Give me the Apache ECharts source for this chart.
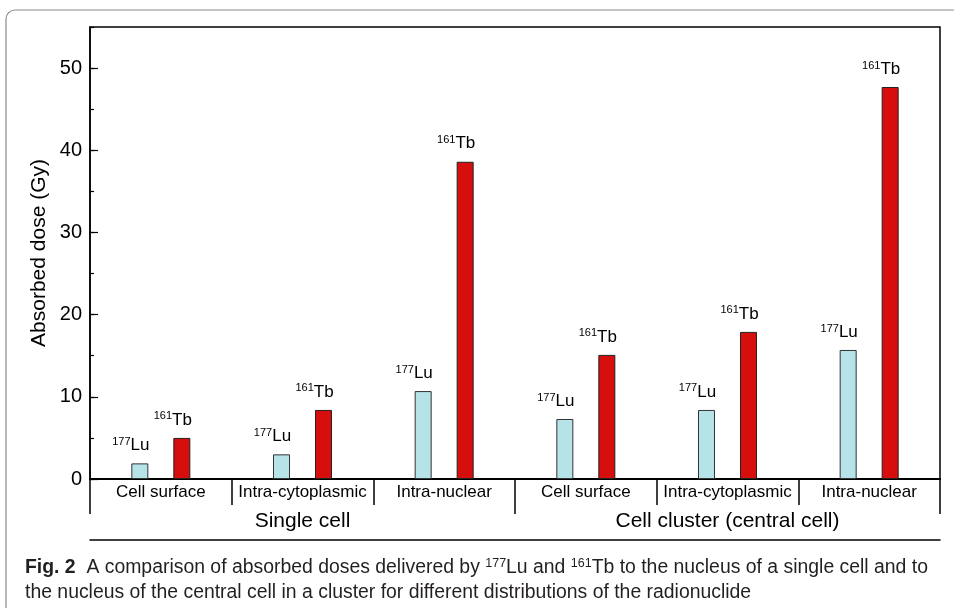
<!DOCTYPE html>
<html>
<head>
<meta charset="utf-8">
<script src="https://cdn.jsdelivr.net/npm/echarts@6/dist/echarts.min.js"></script>
<style>html,body{margin:0;padding:0;background:#fff}#c{width:954px;height:608px}</style>
</head>
<body>
<div id="c"></div>
<script>
var categories = ['Cell surface', 'Intra-cytoplasmic', 'Intra-nuclear', 'Cell surface', 'Intra-cytoplasmic', 'Intra-nuclear'];
var groups = ['Single cell', 'Cell cluster (central cell)'];
var lu177 = [1.9, 3.0, 10.7, 7.3, 8.4, 15.7];
var tb161 = [5.0, 8.4, 38.6, 15.1, 17.9, 47.7];
var yTicks = [0, 10, 20, 30, 40, 50];

var chart = echarts.init(document.getElementById('c'));
var FF = 'Liberation Sans, Arial, sans-serif';
var CF = 'Liberation Sans Narrow, Arial Narrow, sans-serif';
function supLabel(sup, main) {
  return {
    show: true, position: 'top', distance: 9, offset: [-9, 0],
    formatter: '{s|' + sup + '}{n|' + main + '}',
    rich: {
      s: { fontSize: 11, fontFamily: FF, color: '#000', padding: [0, 0, 7, 0] },
      n: { fontSize: 17, fontFamily: FF, color: '#000' }
    }
  };
}
chart.setOption({
  animation: false,
  backgroundColor: '#fff',
  title: {
    left: 25, top: 555, padding: 0,
    text: '{b|Fig. 2}{t|  A comparison of absorbed doses delivered by }{s|177}{t|Lu and }{s|161}{t|Tb to the nucleus of a single cell and to}\n{t|the nucleus of the central cell in a cluster for different distributions of the radionuclide}',
    textStyle: {
      fontWeight: 'normal',
      rich: {
        b: { fontFamily: CF, fontWeight: 'bold', fontSize: 19.4, color: '#231f20', lineHeight: 25 },
        t: { fontFamily: CF, fontWeight: 'normal', fontSize: 19.4, color: '#231f20', lineHeight: 25 },
        s: { fontFamily: CF, fontWeight: 'normal', fontSize: 12.5, color: '#231f20', padding: [0, 0, 8, 0], lineHeight: 25 }
      }
    }
  },
  graphic: [{
    type: 'rect', silent: true, z: -10,
    shape: { x: 6, y: 10, width: 1000, height: 700, r: 9 },
    style: { fill: 'none', stroke: '#8a8a8a', lineWidth: 1.2 }
  }],
  grid: { left: 90, right: 14, top: 27, bottom: 129, show: true, borderColor: '#000', borderWidth: 1.5, backgroundColor: 'transparent' },
  xAxis: [{
    type: 'category', data: categories, position: 'bottom',
    axisLine: { show: true, lineStyle: { color: '#000', width: 2 } },
    axisTick: { show: true, inside: false, length: 26, alignWithLabel: false, lineStyle: { color: '#000', width: 1.5 } },
    axisLabel: { margin: 5, fontSize: 17, fontFamily: FF, color: '#000', interval: 0 }
  }, {
    type: 'category', data: groups, position: 'bottom', offset: 26,
    axisLine: { show: true, lineStyle: { color: '#000', width: 1.5 } },
    axisTick: { show: true, inside: false, length: 35, alignWithLabel: false, lineStyle: { color: '#000', width: 1.5 } },
    axisLabel: { margin: 6, fontSize: 21, fontFamily: FF, color: '#000', interval: 0 }
  }, {
    type: 'category', data: groups, position: 'bottom', offset: 61,
    axisLine: { show: true, lineStyle: { color: '#000', width: 1.5 } },
    axisTick: { show: false }, axisLabel: { show: false }
  }],
  yAxis: [{
    type: 'value', min: 0, max: 55, interval: 10,
    name: 'Absorbed dose (Gy)', nameLocation: 'middle', nameGap: 40, nameMoveOverlap: false,
    nameTextStyle: { fontSize: 21, fontFamily: FF, color: '#000' },
    axisLine: { show: true, lineStyle: { color: '#000', width: 1.5 } },
    axisTick: { show: true, inside: true, length: 8, lineStyle: { color: '#000', width: 1.2 } },
    axisLabel: { fontSize: 20, fontFamily: FF, color: '#000', margin: 8, showMaxLabel: false,
      formatter: function (v) { return yTicks.indexOf(v) >= 0 ? String(v) : ''; } },
    splitLine: { show: false }
  }, {
    type: 'value', min: 0, max: 55, interval: 5, position: 'left', offset: 0,
    axisLine: { show: false },
    axisTick: { show: true, inside: true, length: 4, lineStyle: { color: '#000', width: 1.2 } },
    axisLabel: { show: false }, splitLine: { show: false }
  }],
  series: [{
    name: '177Lu', type: 'bar', xAxisIndex: 0, yAxisIndex: 0, data: lu177,
    barWidth: 17, barGap: '147%',
    itemStyle: { color: '#b5e3e8', borderColor: '#333', borderWidth: 1 },
    label: supLabel('177', 'Lu')
  }, {
    name: '161Tb', type: 'bar', xAxisIndex: 0, yAxisIndex: 0, data: tb161,
    barWidth: 17,
    itemStyle: { color: '#d70e0e', borderColor: '#222', borderWidth: 1 },
    label: supLabel('161', 'Tb')
  }]
});
</script>
</body>
</html>
